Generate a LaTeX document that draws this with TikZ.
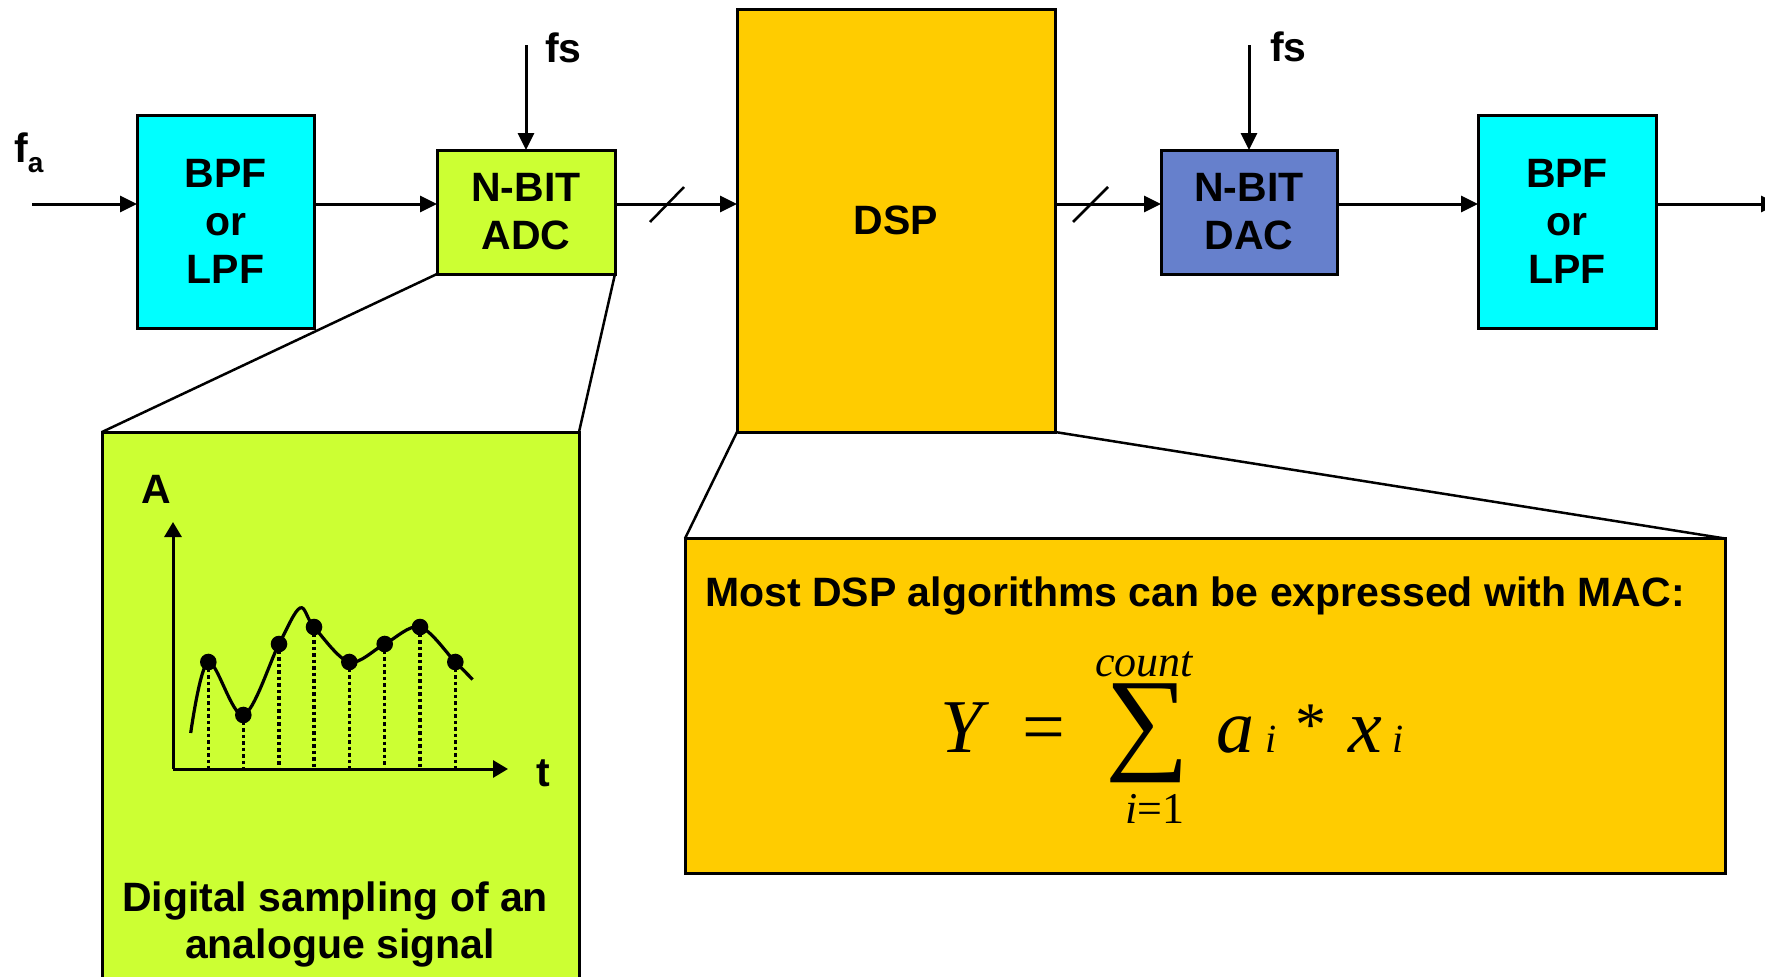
\documentclass[tikz,border=0pt]{standalone}
\usepackage{fontspec}
\setmainfont{Liberation Sans}
\newfontfamily\tnr{Liberation Serif}
\usetikzlibrary{arrows.meta}
\definecolor{cyanbox}{RGB}{0,255,255}
\definecolor{limebox}{RGB}{204,255,51}
\definecolor{dspbox}{RGB}{255,204,0}
\definecolor{dacbox}{RGB}{102,128,204}
\begin{document}
\begin{tikzpicture}[x=1pt,y=-1pt,
  blk/.style={draw=black, line width=3pt, inner sep=0pt, outer sep=0pt, align=center,
    font=\fontsize{41}{48}\selectfont\bfseries},
  panel/.style={draw=black, line width=3pt, inner sep=0pt, outer sep=0pt},
  sig/.style={line width=3pt, -{Triangle[length=17pt,width=16pt]}},
  zoomline/.style={line width=2.5pt},
  lbl/.style={font=\fontsize{41}{48}\selectfont\bfseries, inner sep=0pt},
  mathit/.style={font=\tnr\itshape\fontsize{76}{76}\selectfont, inner sep=0pt},
  mathsmall/.style={font=\tnr\itshape\fontsize{44}{44}\selectfont, inner sep=0pt},
  mathsub/.style={font=\tnr\itshape\fontsize{40}{40}\selectfont, inner sep=0pt},
  dotline/.style={line width=3.5pt, dash pattern=on 3.5pt off 3pt},
]
\clip (0,0) rectangle (1765,977);
\fill[white] (0,0) rectangle (1765,977);

% zoom panels
\node[panel, fill=limebox, minimum width=477pt, minimum height=580pt] (green) at (340.5,722) {};
\node[panel, fill=dspbox, minimum width=1040pt, minimum height=335pt] (formula) at (1205,706) {};

% chain blocks
\node[blk, fill=cyanbox, minimum width=177pt, minimum height=213pt] (bpf1) at (225.5,221.5) {BPF\\or\\LPF};
\node[blk, fill=limebox, minimum width=178pt, minimum height=124pt] (adc) at (526,212) {N-BIT\\ADC};
\node[blk, fill=dspbox, minimum width=318pt, minimum height=423pt] (dsp) at (896,220.5) {DSP};
\node[blk, fill=dacbox, minimum width=176pt, minimum height=124pt] (dac) at (1249,212) {N-BIT\\DAC};
\node[blk, fill=cyanbox, minimum width=178pt, minimum height=213pt] (bpf2) at (1567,221.5) {BPF\\or\\LPF};

% zoom lines
\draw[zoomline] (adc.south west) -- (green.north west);
\draw[zoomline] (adc.south east) -- (green.north east);
\draw[zoomline] (dsp.south west) -- (formula.north west);
\draw[zoomline] (dsp.south east) -- (formula.north east);

% signal path
\coordinate (in) at (32,204);
\coordinate (out) at (1778,204);
\draw[sig] (in) -- (in -| bpf1.west);
\draw[sig] (bpf1.east |- in) -- (adc.west |- in);
\draw[sig] (adc.east |- in) -- (dsp.west |- in);
\draw[sig] (dsp.east |- in) -- (dac.west |- in);
\draw[sig] (dac.east |- in) -- (bpf2.west |- in);
\draw[sig] (bpf2.east |- in) -- (out);

% bus slashes
\draw[line width=2.5pt] (650,222) -- (684,187);
\draw[line width=2.5pt] (1073,222) -- (1108,187);

% clock inputs
\coordinate (fsA) at (526,45);
\coordinate (fsB) at (1249,45);
\draw[sig] (fsA) -- (adc.north);
\draw[sig] (fsB) -- (dac.north);
\node[lbl, anchor=base west] (fsAl) at (545,62) {fs};
\node[lbl, anchor=base west] (fsBl) at (1270,61) {fs};
\node[lbl, anchor=base west] (fa) at (14,162) {f\raisebox{-10pt}{\fontsize{28}{28}\selectfont a}};

% sampling graph
\coordinate (o) at (173,769);
\draw[line width=3pt, -{Triangle[length=15pt,width=17pt]}] (o) -- (173,522);
\draw[line width=3pt, -{Triangle[length=15pt,width=17pt]}] (o) -- (508,769);
\node[lbl, anchor=base] (Alab) at (156,503) {A};
\node[lbl, anchor=base] (tlab) at (543,786) {t};
\draw[line width=3.2pt] plot[smooth, tension=0.55] coordinates {(190.7,733) (208.3,662) (243.3,715) (279,644) (300,608) (314,627) (349.3,662) (384.7,644) (420,627) (455.3,662) (472.7,679.5)};
\foreach \px/\py in {208.3/662, 243.3/715, 279/644, 314/627, 349.3/662, 384.7/644, 420/627, 455.3/662} {
  \draw[dotline] (\px,\py) -- (\px,769);
  \fill (\px,\py) circle (8.3);
}
\node[lbl, anchor=base] (cap1) at (335,911) {Digital sampling of an};
\node[lbl, anchor=base] (cap2) at (340,958) {analogue signal};

% formula panel
\node[lbl, anchor=base west] (mac) at (705,606) {Most DSP algorithms can be expressed with MAC:};
\node[mathit, anchor=base west] (Y) at (940,752) {Y};
\node[font=\tnr\fontsize{76}{76}\selectfont, inner sep=0pt, anchor=base] (eq) at (1044,752) {=};
\node[inner sep=0pt] (sum) at (1148,733.5) {\resizebox*{84pt}{99pt}{\tnr ∑}};
\node[mathsmall, anchor=base] (cnt) at (1144,676) {count};
\node[mathsmall, anchor=base] (low) at (1155,823) {i{\upshape=1}};
\node[mathit, anchor=base west] (a) at (1216,752) {a};
\node[mathsub, anchor=base west] (ai) at (1265,752) {i};
\node[font=\tnr\fontsize{62}{62}\selectfont, inner sep=0pt, anchor=base] (ast) at (1311,745) {*};
\node[mathit, anchor=base west] (x) at (1348,752) {x};
\node[mathsub, anchor=base west] (xi) at (1392,752) {i};
\end{tikzpicture}
\end{document}
